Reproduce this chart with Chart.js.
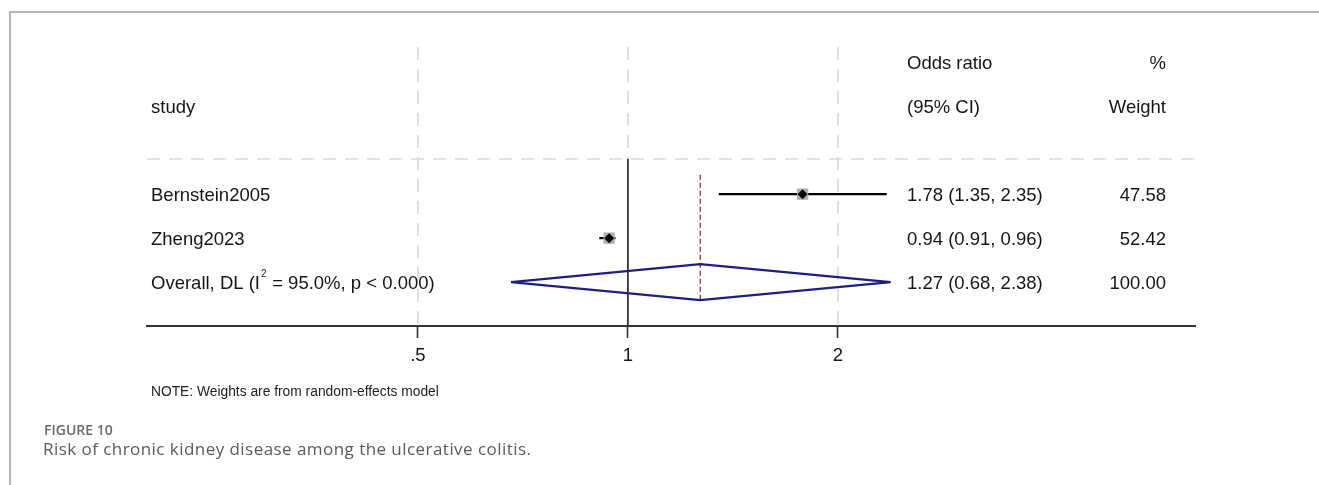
<!DOCTYPE html>
<html>
<head>
<meta charset="utf-8">
<script src="https://cdn.jsdelivr.net/npm/chart.js@4.4.1/dist/chart.umd.min.js"></script>
<style>
  html, body { margin: 0; padding: 0; background: #fff; width: 1319px; height: 485px; overflow: hidden; }
  #wrap { position: relative; width: 1319px; height: 485px; }
  #frame { position: absolute; left: 9px; top: 11px; width: 1320px; height: 480px;
           border-top: 2px solid #b4b4b4; border-left: 2px solid #b4b4b4; box-sizing: border-box; }
  #chart { position: absolute; left: 0; top: 0; }
  #figlabel { position: absolute; left: 44px; top: 421px; font-family: "Open Sans", sans-serif;
              font-weight: 600; font-size: 14px; color: #6a6a6a; line-height: 18px; }
  #figcap { position: absolute; left: 43px; top: 437px; font-family: "Open Sans", sans-serif;
            font-weight: 400; font-size: 17px; letter-spacing: 0.45px; color: #5a5a5a; line-height: 24px; }
</style>
</head>
<body>
<div id="wrap">
  <div id="frame"></div>
  <canvas id="chart" width="1319" height="485"></canvas>
  <div id="figlabel">FIGURE 10</div>
  <div id="figcap">Risk of chronic kidney disease among the ulcerative colitis.</div>
</div>
<script>
// ---- data ----
const studies = ['Bernstein2005', 'Zheng2023'];
const oddsRatio = [1.78, 0.94];
const ciLow = [1.35, 0.91];
const ciHigh = [2.35, 0.96];
const weights = ['47.58', '52.42'];
const overallOR = 1.27;
const overallLow = 0.68;
const overallHigh = 2.38;
const overallWeight = '100.00';
const overallI2 = '95.0%';
const overallP = '0.000';
const tickValues = [0.5, 1, 2];
const tickLabels = ['.5', '1', '2'];
const noteText = 'NOTE: Weights are from random-effects model';

// ---- layout constants ----
const X_MIN = 0.2045, X_MAX = 6.5;
const Y_MIN = -2.35, Y_MAX = 4;
const DIVIDER_Y = 0.2;
const OVERALL_ROW = studies.length + 1;
const DIAMOND_HALF = 0.41;
const FONT = '"Liberation Sans", Arial, sans-serif';
const TEXT_DY = 2;

const fmt = v => v.toFixed(2);
const gridStyle = { borderColor: '#d9d9d9', borderWidth: 1.6, borderDash: [13, 9], pointRadius: 0, showLine: true, clip: false, order: 10 };

const datasets = [];
// point estimates and weight boxes
datasets.push({ data: oddsRatio.map((v, i) => ({ x: v, y: i + 1 })), pointStyle: 'rectRot', pointRadius: 5,
  backgroundColor: '#000', borderWidth: 0, showLine: false, order: 0 });
datasets.push({ data: oddsRatio.map((v, i) => ({ x: v, y: i + 1 })), pointStyle: 'rect', pointRadius: 8,
  backgroundColor: '#b0b0b0', borderWidth: 0, showLine: false, order: 1 });
// CI lines
studies.forEach((s, i) => {
  datasets.push({ data: [{ x: ciLow[i], y: i + 1 }, { x: ciHigh[i], y: i + 1 }], borderColor: '#000', borderWidth: 2.2,
    pointRadius: 0, showLine: true, clip: false, order: 2 });
});
// overall diamond
datasets.push({ data: [
    { x: overallLow, y: OVERALL_ROW }, { x: overallOR, y: OVERALL_ROW - DIAMOND_HALF },
    { x: overallHigh, y: OVERALL_ROW }, { x: overallOR, y: OVERALL_ROW + DIAMOND_HALF },
    { x: overallLow, y: OVERALL_ROW }],
  borderColor: '#1e1e82', borderWidth: 2.2, pointRadius: 0, showLine: true, fill: false, clip: false, order: 3 });
// overall estimate dashed line
datasets.push({ data: [{ x: overallOR, y: 0.56 }, { x: overallOR, y: OVERALL_ROW + DIAMOND_HALF }],
  borderColor: '#a8383f', borderWidth: 1.4, borderDash: [5, 3], pointRadius: 0, showLine: true, clip: false, order: 4 });
// null line
datasets.push({ data: [{ x: 1, y: DIVIDER_Y }, { x: 1, y: Y_MAX }], borderColor: '#333', borderWidth: 1.8,
  pointRadius: 0, showLine: true, clip: false, order: 5 });
// grid lines
tickValues.forEach(v => {
  const bottom = v === 1 ? DIVIDER_Y : Y_MAX;
  datasets.push(Object.assign({ data: [{ x: v, y: Y_MIN }, { x: v, y: bottom }] }, gridStyle));
});
datasets.push(Object.assign({ data: [{ x: X_MIN, y: DIVIDER_Y }, { x: X_MAX, y: DIVIDER_Y }] }, gridStyle));

const textPlugin = {
  id: 'forestText',
  afterDraw(chart) {
    const ctx = chart.ctx;
    const ys = chart.scales.y;
    const labelX = 151, orX = 907, wX = 1166;
    ctx.save();
    ctx.fillStyle = '#151515';
    ctx.textBaseline = 'middle';
    ctx.font = '18.5px ' + FONT;
    const put = (t, x, row, align) => { ctx.textAlign = align; ctx.fillText(t, x, ys.getPixelForValue(row) + TEXT_DY); };
    put('Odds ratio', orX, -2, 'left');
    put('%', wX, -2, 'right');
    put('study', labelX, -1, 'left');
    put('(95% CI)', orX, -1, 'left');
    put('Weight', wX, -1, 'right');
    studies.forEach((s, i) => {
      put(s, labelX, i + 1, 'left');
      put(`${fmt(oddsRatio[i])} (${fmt(ciLow[i])}, ${fmt(ciHigh[i])})`, orX, i + 1, 'left');
      put(weights[i], wX, i + 1, 'right');
    });
    // overall label with superscript
    const yo = ys.getPixelForValue(OVERALL_ROW) + TEXT_DY;
    ctx.textAlign = 'left';
    let x = labelX;
    const p1 = 'Overall, DL (I';
    ctx.fillText(p1, x, yo); x += ctx.measureText(p1).width + 1;
    ctx.font = '10px ' + FONT;
    ctx.fillText('2', x, yo - 10); x += ctx.measureText('2').width + 0.5;
    ctx.font = '18.5px ' + FONT;
    ctx.fillText(` = ${overallI2}, p < ${overallP})`, x, yo);
    put(`${fmt(overallOR)} (${fmt(overallLow)}, ${fmt(overallHigh)})`, orX, OVERALL_ROW, 'left');
    put(overallWeight, wX, OVERALL_ROW, 'right');
    // note
    ctx.font = '13.8px ' + FONT;
    ctx.fillStyle = '#222';
    ctx.textAlign = 'left';
    ctx.fillText(noteText, labelX, 392);
    ctx.restore();
  }
};

new Chart(document.getElementById('chart'), {
  type: 'scatter',
  data: { datasets },
  plugins: [textPlugin],
  options: {
    responsive: false,
    animation: false,
    devicePixelRatio: 1,
    layout: { padding: { left: 147, right: 124, top: 47, bottom: 119 } },
    plugins: { legend: { display: false }, tooltip: { enabled: false } },
    scales: {
      x: {
        type: 'logarithmic', min: X_MIN, max: X_MAX,
        afterBuildTicks: s => { s.ticks = tickValues.map(v => ({ value: v })); },
        afterFit: s => { s.height = 40; },
        ticks: { callback: (v, i) => tickLabels[i], autoSkip: false, maxRotation: 0, padding: 7,
                 color: '#151515', font: { family: FONT, size: 18.5 } },
        grid: { display: true, drawOnChartArea: false, drawTicks: true, tickLength: 12, tickColor: '#333', tickWidth: 1.6 },
        border: { display: true, color: '#333', width: 2 }
      },
      y: { type: 'linear', reverse: true, min: Y_MIN, max: Y_MAX, display: false }
    }
  }
});
</script>
</body>
</html>
